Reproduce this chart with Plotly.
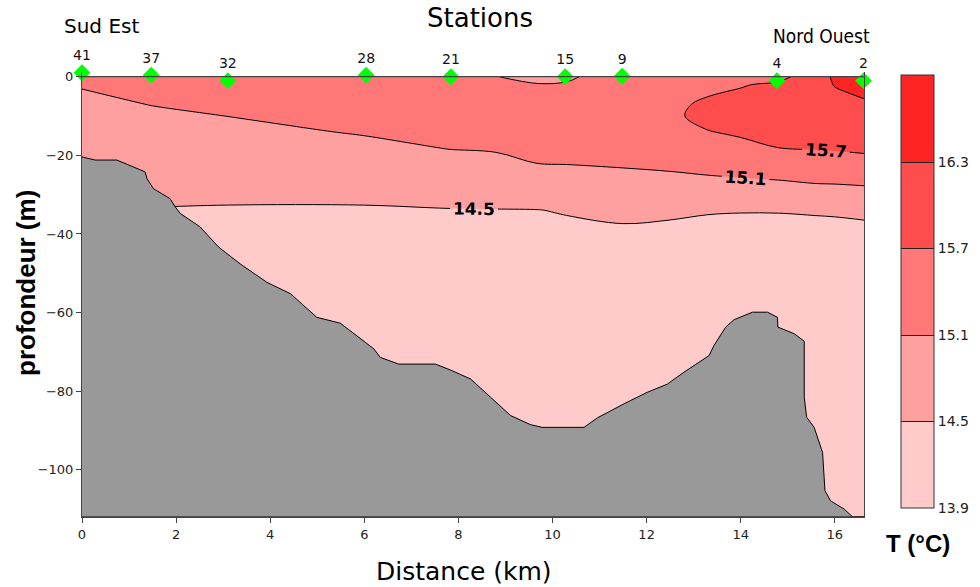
import plotly.graph_objects as go

# Section grid: distance along the transect (km) and depth (m)
dist_km = [0.0, 1.5, 3.1, 6.0, 7.8, 8.8, 9.7, 10.3, 11.5, 12.5, 13.3, 14.0, 14.8, 15.6, 16.0, 16.62]
depth_m = [0, -2, -4, -7, -10, -14, -18, -22, -26, -30, -34, -38, -45, -112]

# Temperature (°C), one row per depth level
temp_c = [
    [15.25, 15.35, 15.40, 15.45, 15.20, 15.11, 14.98, 15.00, 15.45, 15.50, 15.55, 15.60, 15.55, 16.00, 16.40, 16.55],
    [15.135, 15.28, 15.341, 15.405, 15.25, 15.20, 15.118, 15.153, 15.475, 15.533, 15.608, 15.667, 15.78, 16.10, 16.323, 16.459],
    [15.073, 15.21, 15.281, 15.359, 15.30, 15.267, 15.239, 15.284, 15.50, 15.567, 15.665, 15.742, 15.868, 16.20, 16.25, 16.368],
    [15.016, 15.11, 15.192, 15.291, 15.261, 15.274, 15.277, 15.322, 15.538, 15.617, 15.763, 15.867, 16.042, 16.101, 16.144, 16.239],
    [14.959, 15.037, 15.103, 15.223, 15.221, 15.235, 15.243, 15.281, 15.492, 15.615, 15.832, 15.914, 16.021, 16.001, 16.037, 16.116],
    [14.882, 14.944, 14.994, 15.132, 15.168, 15.184, 15.197, 15.225, 15.377, 15.473, 15.684, 15.771, 15.862, 15.869, 15.895, 15.953],
    [14.806, 14.850, 14.885, 15.005, 15.116, 15.132, 15.151, 15.169, 15.262, 15.331, 15.476, 15.576, 15.704, 15.736, 15.753, 15.790],
    [14.729, 14.757, 14.775, 14.859, 14.977, 15.029, 15.105, 15.114, 15.146, 15.189, 15.267, 15.329, 15.415, 15.485, 15.508, 15.554],
    [14.653, 14.663, 14.666, 14.712, 14.802, 14.840, 14.905, 14.947, 14.993, 15.018, 15.048, 15.079, 15.122, 15.189, 15.200, 15.230],
    [14.576, 14.570, 14.557, 14.566, 14.627, 14.651, 14.689, 14.744, 14.813, 14.800, 14.787, 14.796, 14.819, 14.885, 14.895, 14.931],
    [14.500, 14.483, 14.471, 14.467, 14.482, 14.486, 14.491, 14.530, 14.634, 14.582, 14.526, 14.514, 14.515, 14.530, 14.540, 14.570],
    [14.427, 14.417, 14.409, 14.406, 14.416, 14.419, 14.422, 14.437, 14.475, 14.447, 14.432, 14.430, 14.430, 14.440, 14.443, 14.457],
    [14.30, 14.30, 14.30, 14.30, 14.30, 14.30, 14.30, 14.30, 14.30, 14.30, 14.30, 14.30, 14.30, 14.30, 14.30, 14.30],
    [14.00, 14.00, 14.00, 14.00, 14.00, 14.00, 14.00, 14.00, 14.00, 14.00, 14.00, 14.00, 14.00, 14.00, 14.00, 14.00],
]

# Sea-floor profile along the section
bathy_x = [0.0, 0.28, 0.74, 0.95, 1.34, 1.38, 1.52, 1.87, 1.98, 2.09, 2.51, 2.90, 3.36, 3.93, 4.43,
           4.99, 5.49, 6.20, 6.34, 6.73, 7.51, 7.83, 8.26, 8.68, 9.11, 9.53, 9.78, 10.67, 10.95,
           11.52, 12.01, 12.44, 12.79, 13.33, 13.43, 13.68, 13.86, 14.25, 14.57, 14.78, 14.79,
           15.14, 15.35, 15.35, 15.40, 15.56, 15.74, 15.79, 15.91, 16.20, 16.38, 16.62]
bathy_z = [-20.4, -21.2, -21.2, -22.3, -24.2, -25.9, -28.5, -31.0, -33.1, -34.8, -38.2, -43.3, -47.6,
           -52.3, -55.2, -61.2, -62.7, -69.2, -71.4, -73.1, -73.1, -74.6, -76.9, -81.5, -86.2, -88.5,
           -89.2, -89.2, -86.8, -83.2, -80.3, -78.2, -75.2, -70.9, -68.4, -63.7, -61.8, -59.9, -59.9,
           -61.2, -63.7, -65.4, -67.3, -81.5, -86.6, -89.2, -95.6, -105.3, -107.9, -110.0, -112.0, -112.0]

# CTD stations
station_ids = ["41", "37", "32", "28", "21", "15", "9", "4", "2"]
station_x = [0.0, 1.47, 3.10, 6.04, 7.84, 10.27, 11.48, 14.77, 16.61]
station_z = [1.0, 0.4, -1.0, 0.4, 0.0, 0.0, 0.1, -1.0, -1.0]

levels = [13.9, 14.5, 15.1, 15.7, 16.3, 16.9]
band_colors = ["#ffcaca", "#ffa0a0", "#ff7777", "#ff4d4d", "#ff2424"]

X_MAX = 16.62
Y_MIN = -112.0
Y_TOP = 1.2
PLOT_TOP, PLOT_BOTTOM = 72, 517


def stepped(colors, centred):
    """Flat-colour scale; centred=True puts each colour around k/(n-1)."""
    n = len(colors)
    scale = []
    for i, c in enumerate(colors):
        if centred:
            lo = 0.0 if i == 0 else (i - 0.5) / (n - 1)
            hi = 1.0 if i == n - 1 else (i + 0.5) / (n - 1)
        else:
            lo, hi = i / n, (i + 1) / n
        scale += [[lo, c], [hi, c]]
    return scale


contour_levels = dict(start=levels[1], end=levels[-2], size=0.6)

fig = go.Figure()

# colour-bar carrier (hidden underneath the filled contours)
fig.add_trace(go.Contour(
    x=dist_km, y=depth_m, z=temp_c,
    colorscale=stepped(band_colors, centred=False),
    zmin=levels[0], zmax=levels[-1],
    autocontour=False,
    contours=dict(coloring="heatmap", showlabels=False, **contour_levels),
    line=dict(color="#222", width=1),
    colorbar=dict(
        x=(901 - 82) / 782, xanchor="left", xpad=0,
        y=(PLOT_BOTTOM - 75) / (PLOT_BOTTOM - PLOT_TOP), yanchor="top", ypad=0,
        thickness=33, lenmode="pixels", len=433,
        outlinewidth=1, outlinecolor="#333",
        tickvals=levels[:-1], ticktext=[f"{v:.1f}" for v in levels[:-1]],
        ticks="", tickfont=dict(family="DejaVu Sans", size=14, color="#222"),
    ),
    hoverinfo="skip",
))

# filled temperature section
fig.add_trace(go.Contour(
    x=dist_km, y=depth_m, z=temp_c,
    colorscale=stepped(band_colors, centred=True),
    autocontour=False, showscale=False,
    contours=dict(coloring="fill", showlabels=True, labelformat=".1f",
                  labelfont=dict(family="DejaVu Sans", size=17, color="black", weight="bold"),
                  **contour_levels),
    line=dict(color="black", width=1, smoothing=1.0),
    hoverinfo="skip",
))

# sea floor
fig.add_trace(go.Scatter(
    x=bathy_x + [X_MAX, 0.0], y=bathy_z + [Y_MIN, Y_MIN],
    mode="lines", fill="toself", fillcolor="#999999",
    line=dict(color="black", width=1), hoverinfo="skip", showlegend=False,
))

# stations
fig.add_trace(go.Scatter(
    x=station_x, y=station_z, mode="markers+text",
    marker=dict(symbol="diamond", size=13, color="#00ff00"),
    text=station_ids, textposition="top center",
    textfont=dict(family="DejaVu Sans", size=14, color="#111"),
    cliponaxis=False, hoverinfo="skip", showlegend=False,
))

# sea-surface line
fig.add_shape(type="line", x0=0, x1=X_MAX, y0=0, y1=0, xref="x", yref="y",
              line=dict(color="#444", width=1.2), layer="above")


def label(text, px, py, size, family="DejaVu Sans", weight="normal", angle=0):
    fig.add_annotation(text=text,
                       x=(px - 82) / 782, y=(PLOT_BOTTOM - py) / (PLOT_BOTTOM - PLOT_TOP),
                       xref="paper", yref="paper",
                       xanchor="center", yanchor="middle", showarrow=False,
                       textangle=angle,
                       font=dict(family=family, size=size, color="black", weight=weight))


label("Stations", 480, 18, 26)
label("Sud Est", 101, 26, 20)
label("Nord Ouest", 821, 36, 19, family="DejaVu Sans Condensed, DejaVu Sans, sans-serif")
label("Distance (km)", 464, 571, 25)
label("profondeur (m)", 26, 283, 26,
      family="Liberation Sans, Arial, sans-serif", weight="bold", angle=-90)
label("T (°C)", 918, 543, 24, family="Liberation Sans, Arial, sans-serif", weight="bold")

TICK_FONT = dict(family="DejaVu Sans", size=13, color="#222")
fig.update_xaxes(range=[0, X_MAX], tickvals=list(range(0, 17, 2)),
                 showgrid=False, zeroline=False, showline=True, mirror=False,
                 linecolor="#444", linewidth=1, ticks="outside", ticklen=5,
                 tickcolor="#444", tickfont=TICK_FONT)
fig.update_yaxes(range=[Y_MIN, Y_TOP], tickvals=list(range(-100, 1, 20)),
                 showgrid=False, zeroline=False, showline=True, mirror=True,
                 linecolor="#444", linewidth=1, ticks="outside", ticklen=5,
                 tickcolor="#444", tickfont=TICK_FONT)

fig.update_layout(
    width=980, height=587,
    margin=dict(l=82, r=116, t=PLOT_TOP, b=587 - PLOT_BOTTOM),
    paper_bgcolor="white", plot_bgcolor="white",
    showlegend=False,
)

fig.write_html("out.html")
